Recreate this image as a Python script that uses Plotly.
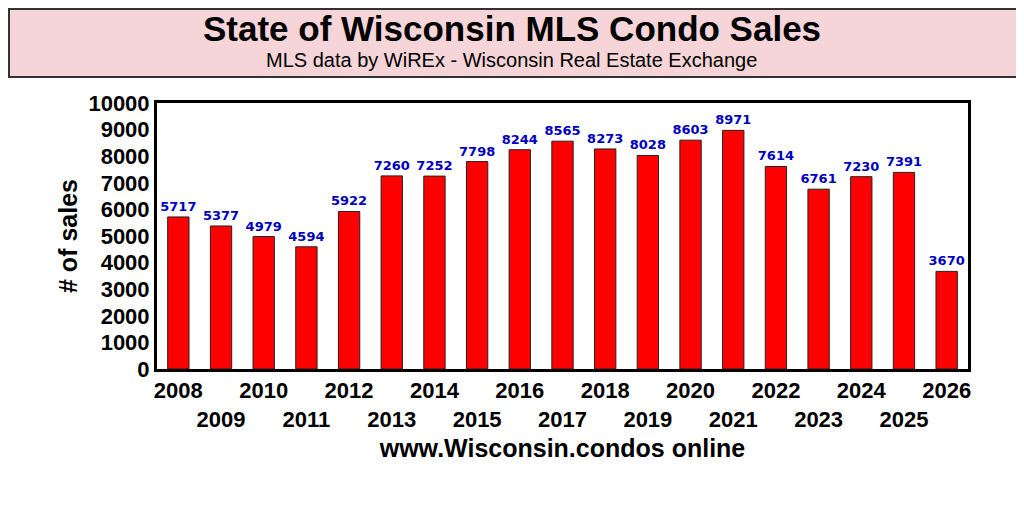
import plotly.graph_objects as go

# MLS condo sales by year
years = list(range(2008, 2027))
sales = [5717, 5377, 4979, 4594, 5922, 7260, 7252, 7798, 8244, 8565,
         8273, 8028, 8603, 8971, 7614, 6761, 7230, 7391, 3670]

# even years on the first row, odd years dropped to the second row
tick_text = [str(y) if y % 2 == 0 else "<br>" + str(y) for y in years]

fig = go.Figure()

fig.add_trace(go.Bar(
    x=[str(y) for y in years],
    y=sales,
    width=0.5,
    marker=dict(color="#ff0000", line=dict(color="#222222", width=1)),
    text=[str(v) for v in sales],
    textposition="outside",
    constraintext="none",
    cliponaxis=False,
    textfont=dict(family="DejaVu Sans", size=13, color="#0000c0", weight="bold"),
))

# page body adds 8px, so the figure is a bit smaller than the window
fig.update_layout(
    width=1016,
    height=504,
    margin=dict(l=149, r=56, t=95, b=143),
    paper_bgcolor="white",
    plot_bgcolor="white",
    showlegend=False,
    font=dict(family="Liberation Sans", color="black"),
    # title box
    shapes=[dict(
        type="rect", xref="paper", yref="paper",
        x0=-0.1825, x1=1.0654, y0=1.0977, y1=1.3534,
        fillcolor="#f5d5d7", line=dict(color="#333333", width=2),
        layer="below",
    )],
    annotations=[
        dict(text="<b>State of Wisconsin MLS Condo Sales</b>",
             xref="paper", yref="paper", x=0.4377, y=1.2782,
             xanchor="center", yanchor="middle", showarrow=False,
             font=dict(family="Liberation Sans", size=35, color="black")),
        dict(text="MLS data by WiREx - Wisconsin Real Estate Exchange",
             xref="paper", yref="paper", x=0.4377, y=1.1617,
             xanchor="center", yanchor="middle", showarrow=False,
             font=dict(family="Liberation Sans", size=20, color="black")),
    ],
)

fig.update_xaxes(
    type="category",
    tickvals=[str(y) for y in years],
    ticktext=tick_text,
    tickangle=0,
    automargin=False,
    tickfont=dict(family="Liberation Sans", size=22, color="black", weight="bold"),
    showline=True, linecolor="black", linewidth=3, mirror=True,
    showgrid=False, ticks="",
    title=dict(text="<b>www.Wisconsin.condos online</b>",
               font=dict(family="Liberation Sans", size=25, color="black"),
               standoff=9),
)

fig.update_yaxes(
    range=[0, 10000],
    dtick=1000,
    tickformat="d",
    automargin=False,
    tickfont=dict(family="Liberation Sans", size=22, color="black", weight="bold"),
    showline=True, linecolor="black", linewidth=3, mirror=True,
    showgrid=False, ticks="", zeroline=False,
    title=dict(text="<b># of sales</b>",
               font=dict(family="Liberation Sans", size=25, color="black"),
               standoff=4),
)

fig.write_html("out.html")
